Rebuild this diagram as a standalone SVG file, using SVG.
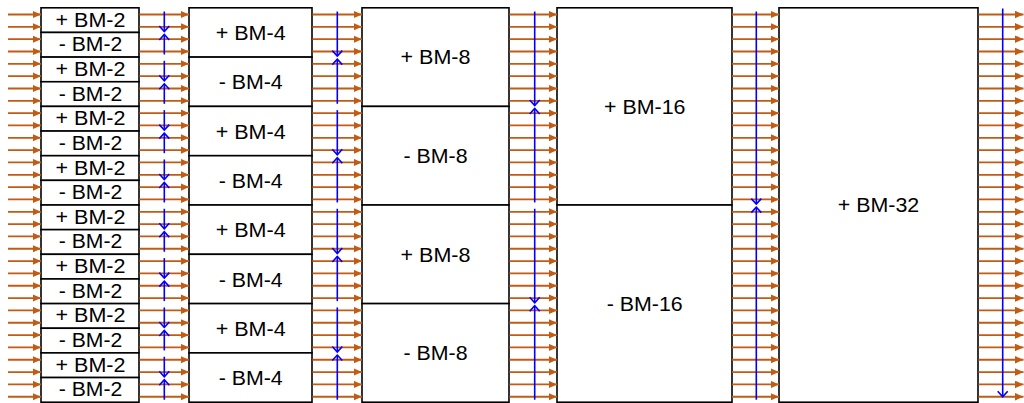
<svg xmlns="http://www.w3.org/2000/svg" width="1024" height="403" viewBox="0 0 1024 403">
<style>
.box{fill:#FFFFFF;stroke:#000000;stroke-width:1.6}
.lbl{font-family:"Liberation Sans",Arial,sans-serif;font-size:20.5px;fill:#000000;text-anchor:middle}
.w{stroke:#C25B14;stroke-width:1.8;fill:none;marker-end:url(#ah)}
.b{stroke:#0000FF;stroke-width:1.6;fill:none;marker-end:url(#chev)}
</style>
<defs>
<marker id="ah" markerUnits="userSpaceOnUse" markerWidth="10" markerHeight="10" viewBox="0 0 10 10" refX="8.5" refY="3.75" orient="auto"><path d="M0,0 L8.5,3.75 L0,7.5 z" fill="#C25B14"/></marker>
<marker id="chev" markerUnits="userSpaceOnUse" markerWidth="14" markerHeight="14" viewBox="-7 -7 14 14" refX="0" refY="0" orient="auto"><path d="M-5.5,-5 L0,0 L-5.5,5" fill="none" stroke="#0000FF" stroke-width="1.6"/></marker>
</defs>

<g id="nodes">
<g id="bm2-0"><rect class="box" x="41" y="7.8" width="98" height="24.65"/><text class="lbl" x="90.5" y="26.6" textLength="70" lengthAdjust="spacingAndGlyphs">+ BM-2</text></g>
<g id="bm2-1"><rect class="box" x="41" y="32.45" width="98" height="24.65"/><text class="lbl" x="90.5" y="51.25" textLength="63.5" lengthAdjust="spacingAndGlyphs">- BM-2</text></g>
<g id="bm2-2"><rect class="box" x="41" y="57.1" width="98" height="24.65"/><text class="lbl" x="90.5" y="75.9" textLength="70" lengthAdjust="spacingAndGlyphs">+ BM-2</text></g>
<g id="bm2-3"><rect class="box" x="41" y="81.75" width="98" height="24.65"/><text class="lbl" x="90.5" y="100.55" textLength="63.5" lengthAdjust="spacingAndGlyphs">- BM-2</text></g>
<g id="bm2-4"><rect class="box" x="41" y="106.4" width="98" height="24.65"/><text class="lbl" x="90.5" y="125.2" textLength="70" lengthAdjust="spacingAndGlyphs">+ BM-2</text></g>
<g id="bm2-5"><rect class="box" x="41" y="131.05" width="98" height="24.65"/><text class="lbl" x="90.5" y="149.85" textLength="63.5" lengthAdjust="spacingAndGlyphs">- BM-2</text></g>
<g id="bm2-6"><rect class="box" x="41" y="155.7" width="98" height="24.65"/><text class="lbl" x="90.5" y="174.5" textLength="70" lengthAdjust="spacingAndGlyphs">+ BM-2</text></g>
<g id="bm2-7"><rect class="box" x="41" y="180.35" width="98" height="24.65"/><text class="lbl" x="90.5" y="199.15" textLength="63.5" lengthAdjust="spacingAndGlyphs">- BM-2</text></g>
<g id="bm2-8"><rect class="box" x="41" y="205" width="98" height="24.65"/><text class="lbl" x="90.5" y="223.8" textLength="70" lengthAdjust="spacingAndGlyphs">+ BM-2</text></g>
<g id="bm2-9"><rect class="box" x="41" y="229.65" width="98" height="24.65"/><text class="lbl" x="90.5" y="248.45" textLength="63.5" lengthAdjust="spacingAndGlyphs">- BM-2</text></g>
<g id="bm2-10"><rect class="box" x="41" y="254.3" width="98" height="24.65"/><text class="lbl" x="90.5" y="273.1" textLength="70" lengthAdjust="spacingAndGlyphs">+ BM-2</text></g>
<g id="bm2-11"><rect class="box" x="41" y="278.95" width="98" height="24.65"/><text class="lbl" x="90.5" y="297.75" textLength="63.5" lengthAdjust="spacingAndGlyphs">- BM-2</text></g>
<g id="bm2-12"><rect class="box" x="41" y="303.6" width="98" height="24.65"/><text class="lbl" x="90.5" y="322.4" textLength="70" lengthAdjust="spacingAndGlyphs">+ BM-2</text></g>
<g id="bm2-13"><rect class="box" x="41" y="328.25" width="98" height="24.65"/><text class="lbl" x="90.5" y="347.05" textLength="63.5" lengthAdjust="spacingAndGlyphs">- BM-2</text></g>
<g id="bm2-14"><rect class="box" x="41" y="352.9" width="98" height="24.65"/><text class="lbl" x="90.5" y="371.7" textLength="70" lengthAdjust="spacingAndGlyphs">+ BM-2</text></g>
<g id="bm2-15"><rect class="box" x="41" y="377.55" width="98" height="24.65"/><text class="lbl" x="90.5" y="396.35" textLength="63.5" lengthAdjust="spacingAndGlyphs">- BM-2</text></g>

<g id="bm4-0"><rect class="box" x="189" y="7.8" width="123" height="49.3"/><text class="lbl" x="250.7" y="40" textLength="70" lengthAdjust="spacingAndGlyphs">+ BM-4</text></g>
<g id="bm4-1"><rect class="box" x="189" y="57.1" width="123" height="49.3"/><text class="lbl" x="250.7" y="89.3" textLength="64" lengthAdjust="spacingAndGlyphs">- BM-4</text></g>
<g id="bm4-2"><rect class="box" x="189" y="106.4" width="123" height="49.3"/><text class="lbl" x="250.7" y="138.6" textLength="70" lengthAdjust="spacingAndGlyphs">+ BM-4</text></g>
<g id="bm4-3"><rect class="box" x="189" y="155.7" width="123" height="49.3"/><text class="lbl" x="250.7" y="187.9" textLength="64" lengthAdjust="spacingAndGlyphs">- BM-4</text></g>
<g id="bm4-4"><rect class="box" x="189" y="205" width="123" height="49.3"/><text class="lbl" x="250.7" y="237.2" textLength="70" lengthAdjust="spacingAndGlyphs">+ BM-4</text></g>
<g id="bm4-5"><rect class="box" x="189" y="254.3" width="123" height="49.3"/><text class="lbl" x="250.7" y="286.5" textLength="64" lengthAdjust="spacingAndGlyphs">- BM-4</text></g>
<g id="bm4-6"><rect class="box" x="189" y="303.6" width="123" height="49.3"/><text class="lbl" x="250.7" y="335.8" textLength="70" lengthAdjust="spacingAndGlyphs">+ BM-4</text></g>
<g id="bm4-7"><rect class="box" x="189" y="352.9" width="123" height="49.3"/><text class="lbl" x="250.7" y="385.1" textLength="64" lengthAdjust="spacingAndGlyphs">- BM-4</text></g>

<g id="bm8-0"><rect class="box" x="362" y="7.8" width="147" height="98.6"/><text class="lbl" x="435.5" y="64.4" textLength="70" lengthAdjust="spacingAndGlyphs">+ BM-8</text></g>
<g id="bm8-1"><rect class="box" x="362" y="106.4" width="147" height="98.6"/><text class="lbl" x="435.5" y="163" textLength="64" lengthAdjust="spacingAndGlyphs">- BM-8</text></g>
<g id="bm8-2"><rect class="box" x="362" y="205" width="147" height="98.6"/><text class="lbl" x="435.5" y="261.6" textLength="70" lengthAdjust="spacingAndGlyphs">+ BM-8</text></g>
<g id="bm8-3"><rect class="box" x="362" y="303.6" width="147" height="98.6"/><text class="lbl" x="435.5" y="360.2" textLength="64" lengthAdjust="spacingAndGlyphs">- BM-8</text></g>

<g id="bm16-0"><rect class="box" x="557" y="7.8" width="175" height="197.2"/><text class="lbl" x="644.7" y="113.7" textLength="81.5" lengthAdjust="spacingAndGlyphs">+ BM-16</text></g>
<g id="bm16-1"><rect class="box" x="557" y="205" width="175" height="197.2"/><text class="lbl" x="644.7" y="310.9" textLength="76" lengthAdjust="spacingAndGlyphs">- BM-16</text></g>

<g id="bm32-0"><rect class="box" x="779" y="7.8" width="199" height="394.4"/><text class="lbl" x="878.5" y="212.3" textLength="81.5" lengthAdjust="spacingAndGlyphs">+ BM-32</text></g>
</g>

<g id="connectors">
<g id="wires-in">
<path class="w" d="M8 14.5H41"/><path class="w" d="M8 26.83H41"/><path class="w" d="M8 39.16H41"/><path class="w" d="M8 51.49H41"/><path class="w" d="M8 63.82H41"/><path class="w" d="M8 76.15H41"/><path class="w" d="M8 88.48H41"/><path class="w" d="M8 100.81H41"/><path class="w" d="M8 113.14H41"/><path class="w" d="M8 125.47H41"/><path class="w" d="M8 137.8H41"/><path class="w" d="M8 150.13H41"/><path class="w" d="M8 162.46H41"/><path class="w" d="M8 174.79H41"/><path class="w" d="M8 187.12H41"/><path class="w" d="M8 199.45H41"/><path class="w" d="M8 211.78H41"/><path class="w" d="M8 224.11H41"/><path class="w" d="M8 236.44H41"/><path class="w" d="M8 248.77H41"/><path class="w" d="M8 261.1H41"/><path class="w" d="M8 273.43H41"/><path class="w" d="M8 285.76H41"/><path class="w" d="M8 298.09H41"/><path class="w" d="M8 310.42H41"/><path class="w" d="M8 322.75H41"/><path class="w" d="M8 335.08H41"/><path class="w" d="M8 347.41H41"/><path class="w" d="M8 359.74H41"/><path class="w" d="M8 372.07H41"/><path class="w" d="M8 384.4H41"/><path class="w" d="M8 396.73H41"/>
</g>
<g id="wires-2-4">
<path class="w" d="M139.5 14.5H189"/><path class="w" d="M139.5 26.83H189"/><path class="w" d="M139.5 39.16H189"/><path class="w" d="M139.5 51.49H189"/><path class="w" d="M139.5 63.82H189"/><path class="w" d="M139.5 76.15H189"/><path class="w" d="M139.5 88.48H189"/><path class="w" d="M139.5 100.81H189"/><path class="w" d="M139.5 113.14H189"/><path class="w" d="M139.5 125.47H189"/><path class="w" d="M139.5 137.8H189"/><path class="w" d="M139.5 150.13H189"/><path class="w" d="M139.5 162.46H189"/><path class="w" d="M139.5 174.79H189"/><path class="w" d="M139.5 187.12H189"/><path class="w" d="M139.5 199.45H189"/><path class="w" d="M139.5 211.78H189"/><path class="w" d="M139.5 224.11H189"/><path class="w" d="M139.5 236.44H189"/><path class="w" d="M139.5 248.77H189"/><path class="w" d="M139.5 261.1H189"/><path class="w" d="M139.5 273.43H189"/><path class="w" d="M139.5 285.76H189"/><path class="w" d="M139.5 298.09H189"/><path class="w" d="M139.5 310.42H189"/><path class="w" d="M139.5 322.75H189"/><path class="w" d="M139.5 335.08H189"/><path class="w" d="M139.5 347.41H189"/><path class="w" d="M139.5 359.74H189"/><path class="w" d="M139.5 372.07H189"/><path class="w" d="M139.5 384.4H189"/><path class="w" d="M139.5 396.73H189"/>
</g>
<g id="wires-4-8">
<path class="w" d="M312.5 14.5H362"/><path class="w" d="M312.5 26.83H362"/><path class="w" d="M312.5 39.16H362"/><path class="w" d="M312.5 51.49H362"/><path class="w" d="M312.5 63.82H362"/><path class="w" d="M312.5 76.15H362"/><path class="w" d="M312.5 88.48H362"/><path class="w" d="M312.5 100.81H362"/><path class="w" d="M312.5 113.14H362"/><path class="w" d="M312.5 125.47H362"/><path class="w" d="M312.5 137.8H362"/><path class="w" d="M312.5 150.13H362"/><path class="w" d="M312.5 162.46H362"/><path class="w" d="M312.5 174.79H362"/><path class="w" d="M312.5 187.12H362"/><path class="w" d="M312.5 199.45H362"/><path class="w" d="M312.5 211.78H362"/><path class="w" d="M312.5 224.11H362"/><path class="w" d="M312.5 236.44H362"/><path class="w" d="M312.5 248.77H362"/><path class="w" d="M312.5 261.1H362"/><path class="w" d="M312.5 273.43H362"/><path class="w" d="M312.5 285.76H362"/><path class="w" d="M312.5 298.09H362"/><path class="w" d="M312.5 310.42H362"/><path class="w" d="M312.5 322.75H362"/><path class="w" d="M312.5 335.08H362"/><path class="w" d="M312.5 347.41H362"/><path class="w" d="M312.5 359.74H362"/><path class="w" d="M312.5 372.07H362"/><path class="w" d="M312.5 384.4H362"/><path class="w" d="M312.5 396.73H362"/>
</g>
<g id="wires-8-16">
<path class="w" d="M509.5 14.5H557"/><path class="w" d="M509.5 26.83H557"/><path class="w" d="M509.5 39.16H557"/><path class="w" d="M509.5 51.49H557"/><path class="w" d="M509.5 63.82H557"/><path class="w" d="M509.5 76.15H557"/><path class="w" d="M509.5 88.48H557"/><path class="w" d="M509.5 100.81H557"/><path class="w" d="M509.5 113.14H557"/><path class="w" d="M509.5 125.47H557"/><path class="w" d="M509.5 137.8H557"/><path class="w" d="M509.5 150.13H557"/><path class="w" d="M509.5 162.46H557"/><path class="w" d="M509.5 174.79H557"/><path class="w" d="M509.5 187.12H557"/><path class="w" d="M509.5 199.45H557"/><path class="w" d="M509.5 211.78H557"/><path class="w" d="M509.5 224.11H557"/><path class="w" d="M509.5 236.44H557"/><path class="w" d="M509.5 248.77H557"/><path class="w" d="M509.5 261.1H557"/><path class="w" d="M509.5 273.43H557"/><path class="w" d="M509.5 285.76H557"/><path class="w" d="M509.5 298.09H557"/><path class="w" d="M509.5 310.42H557"/><path class="w" d="M509.5 322.75H557"/><path class="w" d="M509.5 335.08H557"/><path class="w" d="M509.5 347.41H557"/><path class="w" d="M509.5 359.74H557"/><path class="w" d="M509.5 372.07H557"/><path class="w" d="M509.5 384.4H557"/><path class="w" d="M509.5 396.73H557"/>
</g>
<g id="wires-16-32">
<path class="w" d="M732 14.5H779"/><path class="w" d="M732 26.83H779"/><path class="w" d="M732 39.16H779"/><path class="w" d="M732 51.49H779"/><path class="w" d="M732 63.82H779"/><path class="w" d="M732 76.15H779"/><path class="w" d="M732 88.48H779"/><path class="w" d="M732 100.81H779"/><path class="w" d="M732 113.14H779"/><path class="w" d="M732 125.47H779"/><path class="w" d="M732 137.8H779"/><path class="w" d="M732 150.13H779"/><path class="w" d="M732 162.46H779"/><path class="w" d="M732 174.79H779"/><path class="w" d="M732 187.12H779"/><path class="w" d="M732 199.45H779"/><path class="w" d="M732 211.78H779"/><path class="w" d="M732 224.11H779"/><path class="w" d="M732 236.44H779"/><path class="w" d="M732 248.77H779"/><path class="w" d="M732 261.1H779"/><path class="w" d="M732 273.43H779"/><path class="w" d="M732 285.76H779"/><path class="w" d="M732 298.09H779"/><path class="w" d="M732 310.42H779"/><path class="w" d="M732 322.75H779"/><path class="w" d="M732 335.08H779"/><path class="w" d="M732 347.41H779"/><path class="w" d="M732 359.74H779"/><path class="w" d="M732 372.07H779"/><path class="w" d="M732 384.4H779"/><path class="w" d="M732 396.73H779"/>
</g>
<g id="wires-out">
<path class="w" d="M978.5 14.5H1023.5"/><path class="w" d="M978.5 26.83H1023.5"/><path class="w" d="M978.5 39.16H1023.5"/><path class="w" d="M978.5 51.49H1023.5"/><path class="w" d="M978.5 63.82H1023.5"/><path class="w" d="M978.5 76.15H1023.5"/><path class="w" d="M978.5 88.48H1023.5"/><path class="w" d="M978.5 100.81H1023.5"/><path class="w" d="M978.5 113.14H1023.5"/><path class="w" d="M978.5 125.47H1023.5"/><path class="w" d="M978.5 137.8H1023.5"/><path class="w" d="M978.5 150.13H1023.5"/><path class="w" d="M978.5 162.46H1023.5"/><path class="w" d="M978.5 174.79H1023.5"/><path class="w" d="M978.5 187.12H1023.5"/><path class="w" d="M978.5 199.45H1023.5"/><path class="w" d="M978.5 211.78H1023.5"/><path class="w" d="M978.5 224.11H1023.5"/><path class="w" d="M978.5 236.44H1023.5"/><path class="w" d="M978.5 248.77H1023.5"/><path class="w" d="M978.5 261.1H1023.5"/><path class="w" d="M978.5 273.43H1023.5"/><path class="w" d="M978.5 285.76H1023.5"/><path class="w" d="M978.5 298.09H1023.5"/><path class="w" d="M978.5 310.42H1023.5"/><path class="w" d="M978.5 322.75H1023.5"/><path class="w" d="M978.5 335.08H1023.5"/><path class="w" d="M978.5 347.41H1023.5"/><path class="w" d="M978.5 359.74H1023.5"/><path class="w" d="M978.5 372.07H1023.5"/><path class="w" d="M978.5 384.4H1023.5"/><path class="w" d="M978.5 396.73H1023.5"/>
</g>
<g id="order-2-4">
<path class="b" d="M164.3 11.5V31.5"/><path class="b" d="M164.3 54.5V34.5"/>
<path class="b" d="M164.3 60.82V80.82"/><path class="b" d="M164.3 103.82V83.82"/>
<path class="b" d="M164.3 110.14V130.14"/><path class="b" d="M164.3 153.14V133.14"/>
<path class="b" d="M164.3 159.46V179.46"/><path class="b" d="M164.3 202.46V182.46"/>
<path class="b" d="M164.3 208.78V228.78"/><path class="b" d="M164.3 251.78V231.78"/>
<path class="b" d="M164.3 258.1V278.1"/><path class="b" d="M164.3 301.1V281.1"/>
<path class="b" d="M164.3 307.42V327.42"/><path class="b" d="M164.3 350.42V330.42"/>
<path class="b" d="M164.3 356.74V376.74"/><path class="b" d="M164.3 399.74V379.74"/>
</g>
<g id="order-4-8">
<path class="b" d="M337.3 11.5V56.16"/><path class="b" d="M337.3 103.81V59.16"/>
<path class="b" d="M337.3 110.14V154.8"/><path class="b" d="M337.3 202.45V157.8"/>
<path class="b" d="M337.3 208.78V253.44"/><path class="b" d="M337.3 301.09V256.44"/>
<path class="b" d="M337.3 307.42V352.08"/><path class="b" d="M337.3 399.73V355.08"/>
</g>
<g id="order-8-16">
<path class="b" d="M534.7 11.5V105.48"/><path class="b" d="M534.7 202.45V108.48"/>
<path class="b" d="M534.7 208.78V302.76"/><path class="b" d="M534.7 399.73V305.76"/>
</g>
<g id="order-16-32">
<path class="b" d="M756.3 11.5V204.12"/><path class="b" d="M756.3 399.73V207.12"/>
</g>
<g id="order-out">
<path class="b" d="M1002.7 8.5V396.7"/>
</g>
</g>
</svg>
